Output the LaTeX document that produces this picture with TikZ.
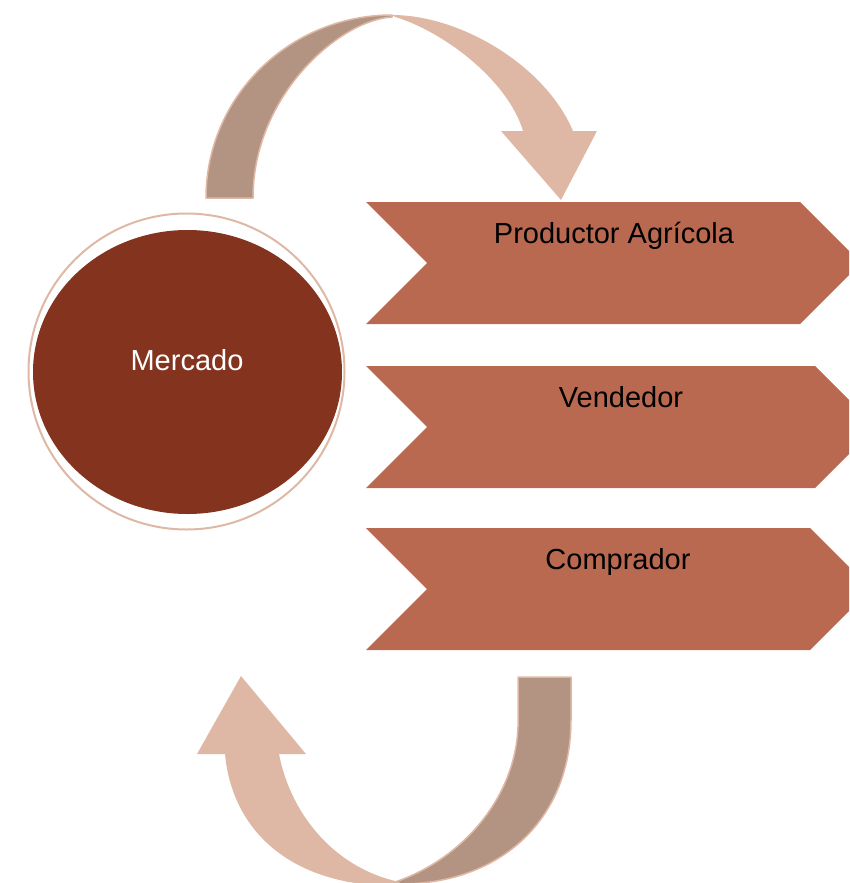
\documentclass[tikz,border=0pt]{standalone}
\usepackage{fontspec}
\setmainfont{Liberation Sans}
\definecolor{peach}{HTML}{DFB8A5}
\definecolor{tan}{HTML}{B39482}
\definecolor{chev}{HTML}{B8694F}
\definecolor{rust}{HTML}{84341E}
\begin{document}
\begin{tikzpicture}[x=1pt,y=-1pt,
  lbl/.style={anchor=base,inner sep=0pt,font=\fontsize{29}{34}\selectfont},
  chevshape/.style={fill=chev,draw=none},
  backband/.style={fill=tan,draw=peach,line width=1.5pt,line join=round},
  frontband/.style={fill=peach,draw=none}]
\useasboundingbox (0,0) rectangle (849,883);
\clip (0,0) rectangle (849,883);

% top curved arrow
\path[backband] (206,198) .. controls (206,97) and (289,15) .. (392,15)
  -- (392,17) .. controls (340,20) and (253,95) .. (253,198) -- cycle;
\path[frontband] (392,15) .. controls (460,15) and (545,65) .. (573,131)
  -- (597,131) -- (561,200) -- (501,131) -- (523,131)
  .. controls (507,78) and (440,30) .. (395,17) -- cycle;

% bottom curved arrow
\path[backband] (571,677) -- (571,720) .. controls (571,820) and (500,884) .. (400,884)
  -- (395,882) .. controls (460,860) and (515,800) .. (518,727) -- (518,677) -- cycle;
\path[frontband] (225,754) -- (197,754) -- (241,676) -- (306,754) -- (279,754)
  .. controls (292,820) and (340,870) .. (400,882) -- (395,886)
  .. controls (290,886) and (232,830) .. (225,754) -- cycle;

% circle
\draw[peach,line width=2pt] (186.5,371.5) circle[radius=158];
\fill[rust] (187.5,372) ellipse[x radius=154.5,y radius=142];
\node[lbl,text=white] (mercado) at (187,370) {Mercado};

% chevrons
\fill[chevshape] (366,202) -- (800,202) -- (861,263) -- (800,324) -- (366,324) -- (427,263) -- cycle;
\fill[chevshape] (366,366) -- (815,366) -- (876,427) -- (815,488) -- (366,488) -- (427,427) -- cycle;
\fill[chevshape] (366,528) -- (810,528) -- (871,589) -- (810,650) -- (366,650) -- (427,589) -- cycle;
\node[lbl] (prod) at (614,243) {Productor Agrícola};
\node[lbl] (vend) at (621,407) {Vendedor};
\node[lbl] (comp) at (618,569) {Comprador};
\end{tikzpicture}
\end{document}
